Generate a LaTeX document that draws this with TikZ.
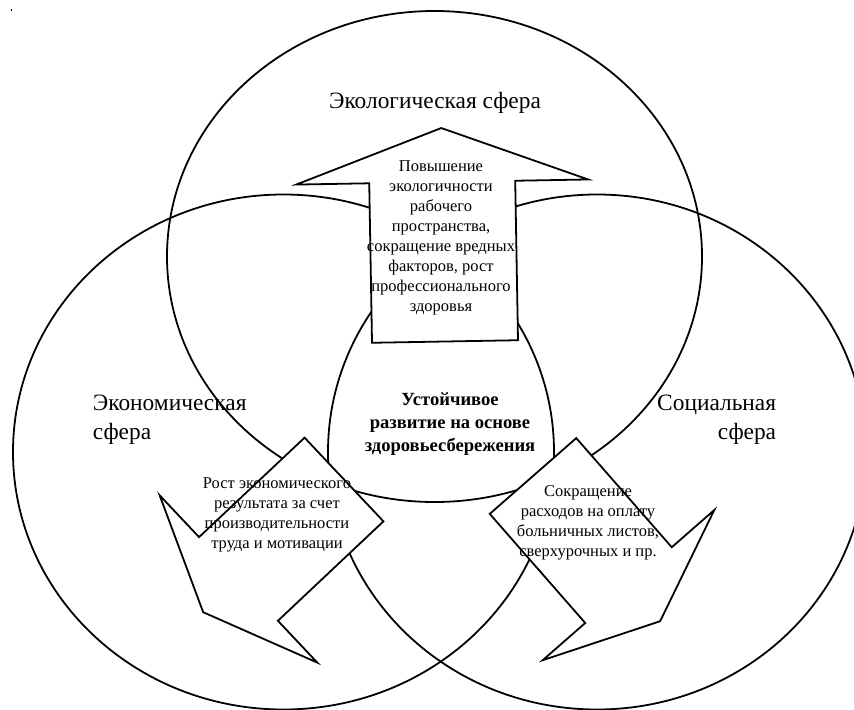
\documentclass[tikz,border=0pt]{standalone}
\usepackage{fontspec}
\setmainfont{Liberation Serif}

\begin{document}
\begin{tikzpicture}[x=0.727pt, y=-0.727pt, line width=1.3pt, line join=miter,
  sphere/.style={draw},
  blockarrow/.style={draw, fill=white},
  spherelabel/.style={font=\fontsize{17}{21}\selectfont, inner sep=0pt},
  arrowtext/.style={font=\fontsize{12}{14.5}\selectfont, align=center, inner sep=0pt},
  coretext/.style={font=\bfseries\fontsize{13.5}{16.5}\selectfont, align=center, inner sep=0pt}]
  \useasboundingbox (0,0) rectangle (854,709);
  \clip (0,0) rectangle (854,709);
  \fill (10.5,9.5) rectangle (12,11);

  % three spheres
  \coordinate (ecol) at (434.5,256.5);
  \coordinate (econ) at (283.5,452);
  \coordinate (soc)  at (597,452);
  \draw[sphere] (ecol) ellipse [x radius=267.5, y radius=245.5];
  \draw[sphere] (econ) ellipse [x radius=270.5, y radius=257.5];
  \draw[sphere] (soc)  ellipse [x radius=269, y radius=257.5];

  % block arrows
  \begin{scope}[shift={(445,341.5)}, rotate=91]
    \draw[blockarrow] (0,73) -- (159.5,73) -- (159.5,146) -- (213.5,0)
      -- (159.5,-146) -- (159.5,-73) -- (0,-73) -- cycle;
  \end{scope}
  \begin{scope}[shift={(344,479.5)}, rotate=223.3]
    \draw[blockarrow] (0,57.5) -- (145,57.5) -- (145,115) -- (193.5,0)
      -- (145,-115) -- (145,-57.5) -- (0,-57.5) -- cycle;
  \end{scope}
  \begin{scope}[shift={(533,476)}, rotate=-48.8]
    \draw[blockarrow] (0,57.5) -- (145,57.5) -- (145,114) -- (193,0)
      -- (145,-114) -- (145,-57.5) -- (0,-57.5) -- cycle;
  \end{scope}

  % labels
  \node[spherelabel]              (ecolabel) at (435,103) {Экологическая сфера};
  \node[spherelabel, align=left,  anchor=west] (econlabel) at (92,420)  {Экономическая\\сфера};
  \node[spherelabel, align=right, anchor=east] (soclabel)  at (777,420) {Социальная\\сфера};

  \node[arrowtext] (ecoltext) at (441,238) {Повышение\\экологичности\\рабочего\\пространства,\\сокращение вредных\\факторов, рост\\профессионального\\здоровья};
  \node[arrowtext] (econtext) at (277,515) {Рост экономического\\результата за счет\\производительности\\труда и мотивации};
  \node[arrowtext] (soctext)  at (588,523) {Сокращение\\расходов на оплату\\больничных листов,\\сверхурочных и пр.};

  \node[coretext] (core) at (450,424) {Устойчивое\\развитие на основе\\здоровьесбережения};
\end{tikzpicture}
\end{document}
